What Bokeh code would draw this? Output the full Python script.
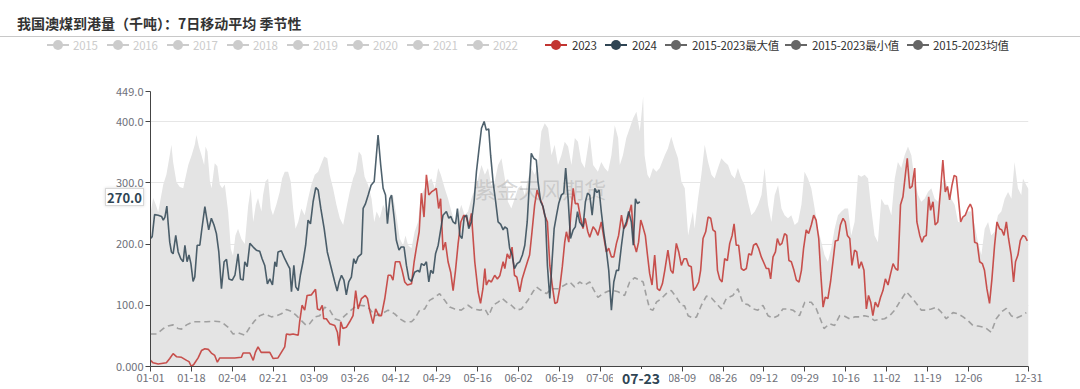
from bokeh.plotting import figure
from bokeh.layouts import column
from bokeh.models import Range1d, FixedTicker, Div
from bokeh.core.properties import value
from bokeh.embed import file_html
from bokeh.resources import INLINE

# ---------------- data ----------------
title_text = "我国澳煤到港量（千吨）：7日移动平均 季节性"
legend_names = ["2015", "2016", "2017", "2018", "2019", "2020", "2021", "2022",
                "2023", "2024", "2015-2023最大值", "2015-2023最小值", "2015-2023均值"]
legend_active = [False] * 8 + [True] * 5
legend_colors = ["#cccccc"] * 8 + ["#c23531", "#2f4554", "#666666", "#666666", "#666666"]

x_tick_days = [0, 17, 34, 51, 68, 85, 102, 119, 136, 153, 170, 187, 204, 221, 238, 255,
               272, 289, 306, 323, 340, 365]
x_tick_labels = ["01-01", "01-18", "02-04", "02-21", "03-09", "03-26", "04-12", "04-29",
                 "05-16", "06-02", "06-19", "07-06", "07-23", "08-09", "08-26", "09-12",
                 "09-29", "10-16", "11-02", "11-19", "12-06", "12-31"]
y_ticks = [0, 100, 200, 300, 400, 449]
y_tick_labels = ["0.000", "100.0", "200.0", "300.0", "400.0", "449.0"]

d2023 = [0, 1.1, 3.2, 6.6, 8, 9.4, 10.8, 12.9, 15, 16, 17, 18.1, 19.8, 21.2, 22.6, 24, 25.3, 26.7, 27.8, 28.8,
         30.9, 35, 37.8, 38.5, 40.6, 41.3, 42.7, 43.6, 44.7, 46, 49.6, 51, 53, 54.4, 55.8, 56.5, 57.9, 59.3, 61.4, 62,
         63, 64.1, 65.1, 66.9, 68.6, 69.4, 70.4, 71.4, 72, 73.1, 74.5, 76.6, 77.7, 78.4, 79.1, 80, 81.4, 82.8, 84.2, 85.3,
         86.3, 87.7, 89.3, 90.2, 91.1, 92.5, 93.6, 94.9, 96, 97.4, 98.8, 99.9, 100.8, 101.8, 103.6, 104.6, 105.7, 106.8, 108.5, 109.6,
         110.5, 111.7, 112.6, 113.7, 114.7, 115.7, 116.8, 117.9, 118.8, 119.8, 120.6, 121.6, 122.6, 123.7, 124.8, 125.8, 126.8, 127.9, 129, 130.2,
         131.3, 132.4, 133.4, 134.8, 136.2, 137.2, 138.2, 139, 139.6, 140.6, 141.7, 143.1, 144.2, 145.2, 146.6, 147.3, 148.3, 149.3, 150.3, 151.3,
         152.3, 153.5, 154.5, 155.6, 156.7, 157.6, 158.6, 159.7, 160.7, 161.8, 162.8, 163.9, 165, 166, 167, 168.1, 169.1, 170.1, 171.2, 172.2,
         172.9, 173.9, 174.7, 175.7, 176.6, 177.7, 178.8, 179.8, 180.7, 181.8, 182.6, 184, 185, 186, 187.4, 188.4, 189.5, 190.5, 191.6, 192.6,
         193.7, 194.6, 195.8, 196.7, 197.8, 198.8, 199.9, 201, 202, 202.9, 203.8, 204.7, 205.7, 206.6, 207.5, 208.5, 209.6, 210.7, 211.7, 212.8,
         213.8, 215.1, 216.3, 217.2, 218.6, 219.6, 220.7, 221.8, 222.8, 223.7, 224.8, 225.8, 226.9, 227.9, 228.7, 229.7, 230.8, 231.8, 232.9, 233.8,
         234.8, 235.7, 236.6, 237.6, 238.7, 239.8, 240.8, 241.8, 242.6, 243.5, 244.5, 245.6, 246.6, 247.7, 248.7, 249.8, 250.7, 251.8, 252.8, 253.9,
         254.8, 256, 257, 257.8, 258.8, 259.8, 260.6, 261.6, 262.5, 263.6, 264.5, 265.4, 266.4, 267.5, 268.5, 269.6, 270.6, 271.5, 272.6, 273.6,
         274.7, 275.7, 276.7, 277.8, 278.6, 279.6, 280.5, 281.6, 282.7, 283.7, 284.7, 285.8, 286.8, 287.9, 288.8, 289.7, 290.7, 291.6, 292.7, 293.6,
         294.5, 295.5, 296.6, 297.6, 298.5, 299.4, 300.3, 301.3, 302.4, 303.5, 304.5, 305.5, 306.6, 307.7, 308.7, 309.7, 310.7, 311.8, 312.8, 313.8,
         314.6, 315.6, 316.6, 317.7, 318.6, 319.8, 320.7, 321.6, 322.5, 323.5, 324.3, 325.3, 326.2, 327.3, 328.5, 329.4, 330.4, 331.3, 332.2, 333.2,
         334.1, 335, 336, 336.8, 337.7, 338.7, 339.8, 340.8, 341.6, 342.6, 343.7, 344.7, 345.8, 346.7, 347.7, 348.8, 349.8, 350.9, 351.9, 353,
         353.9, 354.8, 355.8, 356.7, 357.8, 358.8, 359.6, 360.6, 361.6, 362.7, 363.6, 364.5]
v2023 = [10, 6, 4, 6, 13, 21, 16, 15, 10, 8, 0, 4, 14, 26, 29, 28, 22, 18, 7, 14,
         14, 14, 15, 22, 22, 22, 10, 23, 32, 23, 23, 13, 14, 23, 32, 53, 52, 53, 51, 73,
         100, 92, 116, 117, 126, 94, 92, 100, 78, 78, 70, 67, 56, 34, 73, 62, 64, 73, 83, 124,
         94, 111, 116, 111, 92, 70, 94, 83, 83, 111, 149, 149, 141, 171, 171, 157, 138, 133, 135, 171,
         193, 220, 283, 244, 313, 280, 285, 288, 291, 258, 274, 190, 203, 171, 154, 124, 157, 201, 236, 247,
         244, 228, 250, 171, 122, 103, 127, 160, 133, 141, 138, 149, 143, 148, 171, 160, 184, 176, 195, 149,
         146, 122, 143, 157, 171, 182, 220, 264, 288, 274, 266, 247, 236, 165, 133, 103, 105, 127, 163, 203,
         220, 203, 247, 291, 266, 266, 242, 225, 242, 220, 211, 228, 223, 214, 236, 212, 187, 193, 179, 179,
         201, 214, 247, 225, 231, 247, 264, 201, 187, 203, 239, 228, 214, 182, 152, 133, 182, 127, 124, 135,
         157, 190, 157, 152, 201, 187, 165, 176, 176, 165, 163, 124, 130, 138, 157, 209, 220, 244, 242, 223,
         220, 157, 143, 138, 176, 173, 201, 214, 233, 198, 198, 160, 157, 160, 184, 182, 198, 201, 193, 179,
         171, 160, 160, 143, 179, 187, 209, 198, 201, 217, 214, 173, 171, 157, 141, 138, 157, 193, 223, 217,
         231, 247, 239, 209, 154, 97, 113, 111, 138, 171, 205, 206, 231, 242, 236, 214, 209, 165, 190, 187,
         160, 171, 157, 94, 116, 105, 83, 105, 97, 113, 124, 143, 133, 152, 168, 160, 157, 264, 277, 313,
         340, 291, 294, 324, 236, 214, 203, 212, 214, 277, 255, 269, 231, 236, 291, 337, 285, 294, 272, 296,
         312, 310, 269, 236, 244, 247, 258, 265, 258, 203, 201, 171, 168, 157, 127, 103, 143, 198, 236, 225,
         223, 214, 236, 209, 182, 138, 171, 182, 206, 214, 212, 205]

d2024 = [0, 0.7, 1.7, 3.2, 4.6, 5.3, 6, 6.8, 7.3, 8, 8.7, 9.4, 10.5, 11.5, 12.6, 13.6, 14.3, 15.2, 16, 16.8,
         17.7, 18.4, 19.4, 20.5, 21.2, 22.6, 23.3, 24.2, 25.3, 26.4, 27.4, 28.4, 29.5, 30.6, 31.6, 32.6, 34, 35.1, 36.4, 37.4,
         38.5, 39.2, 40.2, 41.3, 42.7, 44, 45.4, 46.4, 47.5, 48.6, 49.6, 50.7, 51.7, 52.4, 53, 54.4, 55.8, 57.2, 57.9, 58.6,
         59.6, 60.4, 61.4, 62.3, 63.4, 64.5, 65.5, 66.5, 67.6, 68.7, 69.7, 70.8, 72.2, 73.5, 75.2, 76.6, 77.6, 78.4, 79.4, 80.4,
         81.4, 82.4, 83.5, 84.5, 85.3, 86.3, 87.7, 88.4, 89.3, 90.5, 91.7, 93, 94.6, 95.7, 96.7, 97.7, 98.5, 99.5, 100.2, 101.3,
         102.2, 103.3, 104.2, 105.4, 106.4, 107.4, 108.5, 109.8, 111.2, 111.9, 112.6, 113.7, 114.7, 115.7, 116.5, 117.5, 118.5, 119.6, 120.7, 121.6,
         123, 124, 124.8, 125.8, 126.8, 127.6, 128.6, 129.5, 130.4, 131.4, 132.3, 133.4, 134.5, 135.5, 136.6, 137.6, 138.7, 139.6, 140.6, 141.4,
         142.4, 143.5, 144.5, 145.6, 146.6, 147.3, 148.3, 149.3, 150.3, 151.3, 152.4, 153.5, 154.6, 155.6, 156.6, 157.4, 158.3, 159.3, 160.4, 161.1,
         162.2, 163.2, 164.2, 165, 166, 167, 167.8, 168.8, 169.7, 170.8, 171.8, 172.6, 173.6, 174.6, 175.7, 176.6, 177.5, 178.4, 179.8, 180.8,
         181.7, 182.6, 183.6, 184.7, 185.6, 186.5, 187.4, 188.4, 189.5, 190.5, 191.6, 192.6, 193.7, 194.6, 195.8, 196.7, 197.8, 198.8, 199.9, 200.7,
         201.6, 202.4, 203.4]
v2024 = [209, 212, 248, 247, 245, 239, 244, 262, 236, 203, 187, 184, 214, 187, 176, 171, 198, 171, 182, 168,
         139, 146, 198, 198, 220, 261, 244, 223, 242, 231, 217, 187, 127, 171, 175, 143, 141, 149, 184, 143,
         141, 171, 163, 201, 195, 190, 188, 176, 165, 135, 143, 133, 171, 163, 187, 189, 176, 165, 160, 122,
         165, 130, 124, 149, 171, 198, 239, 233, 269, 292, 288, 258, 225, 187, 160, 138, 123, 138, 149, 141,
         117, 138, 146, 176, 168, 179, 184, 258, 265, 280, 296, 302, 378, 329, 291, 280, 233, 274, 280, 242,
         206, 190, 195, 195, 165, 143, 139, 154, 157, 154, 168, 165, 171, 138, 157, 152, 184, 198, 225, 247,
         253, 242, 245, 236, 233, 258, 214, 209, 244, 247, 225, 236, 269, 318, 356, 389, 400, 386, 388, 345,
         302, 269, 236, 232, 223, 228, 225, 193, 182, 160, 168, 171, 182, 198, 236, 291, 348, 340, 337, 302,
         269, 261, 242, 165, 111, 176, 225, 247, 266, 280, 283, 324, 274, 209, 223, 228, 253, 236, 228, 269,
         283, 280, 247, 291, 284, 288, 253, 220, 190, 157, 92, 138, 157, 157, 198, 225, 236, 253, 236, 198,
         274, 266, 269]

d_mean = [0, 2.5, 5.3, 7.3, 9.4, 11.5, 12.9, 15, 17.7, 20.5, 23.3, 26.7, 29.5, 32.3, 34.3, 36.4, 39.2, 41.3, 43.4, 45.4,
          47.5, 50.3, 52.4, 54.4, 56.5, 58.6, 60.7, 62.7, 64.8, 66.2, 68.3, 70.4, 72.4, 74.5, 76.6, 78.7, 80.8, 82.8, 84.9, 87,
          89, 91.1, 93.2, 96, 98.8, 101.5, 103.6, 105.7, 108.5, 109.8, 111.9, 114, 116, 118.2, 120.2, 122.3, 124.4, 126.5, 129.2, 132,
          134.1, 136.9, 139, 140.6, 142.4, 144.5, 146.2, 148, 150, 152.1, 154.2, 156.9, 159, 160.4, 162.5, 164.6, 166.7, 169.4, 172.2, 174.3,
          176.3, 178.4, 180.5, 182.6, 184, 186, 188.1, 190.2, 192.3, 194.4, 197.1, 199.2, 201.3, 203.4, 204.8, 206.1, 207.5, 208.9, 210.3, 212.4,
          214.4, 216.5, 218.6, 220.7, 222, 223.5, 225.5, 227, 229, 231.1, 233.2, 235.2, 237.3, 239.4, 242.1, 244.2, 246.3, 248.4, 250.5, 252.5,
          254.6, 256.7, 258.8, 260.9, 262.9, 265, 267.1, 269.8, 272, 274.7, 276.8, 278.9, 280, 282.3, 284.4, 286.5, 288.6, 290.6, 292.7, 294.8,
          296.9, 298.9, 301, 303.1, 305.2, 307.3, 309.4, 311.4, 314.2, 316.3, 318.4, 320.4, 322.5, 324.6, 326.7, 328.7, 330.8, 333.6, 335.7, 337.8,
          339.8, 341.9, 344, 346.8, 349.5, 351.6, 353.7, 355.8, 357.8, 360, 362.1, 364.1]
v_mean = [53, 53, 62, 66, 68, 62, 61, 68, 73, 73, 73, 74, 73, 64, 53, 55, 51, 64, 75, 83,
          86, 81, 83, 86, 93, 90, 83, 75, 67, 70, 81, 83, 97, 92, 78, 75, 83, 90, 97, 100,
          99, 94, 83, 86, 92, 86, 78, 73, 73, 78, 92, 94, 108, 113, 119, 108, 97, 94, 92, 100,
          94, 92, 94, 83, 100, 105, 111, 105, 100, 92, 94, 108, 122, 130, 124, 119, 127, 127, 133, 138,
          130, 138, 133, 138, 127, 113, 119, 123, 124, 122, 116, 138, 145, 141, 138, 116, 94, 92, 105, 111,
          119, 124, 113, 100, 99, 83, 79, 81, 100, 115, 112, 103, 94, 111, 116, 127, 103, 101, 94, 92,
          100, 83, 79, 83, 94, 94, 92, 83, 105, 105, 94, 73, 62, 70, 67, 83, 82, 78, 81, 81,
          83, 81, 75, 77, 78, 83, 92, 105, 122, 113, 103, 92, 92, 94, 97, 89, 78, 88, 86, 81,
          75, 67, 66, 64, 56, 78, 89, 95, 83, 79, 83, 88]

d_max = [0, 1.1, 2.4, 3.2, 5.3, 6.6, 8, 8.7, 9.4, 10.8, 12.2, 13.6, 14.3, 15.7, 17.1, 18.4, 19.1, 20.1, 21.2, 22.3,
         22.9, 23.7, 24.7, 25.4, 26.7, 27.8, 28.8, 29.8, 30.9, 32.3, 33.4, 34.3, 35.3, 36.4, 37.8, 39.2, 40.6, 41.7, 42.7, 43.8,
         44.7, 46.1, 46.8, 47.8, 48.9, 50, 50.9, 52.3, 53.7, 54.7, 55.8, 57.2, 58.3, 59.3, 60.3, 61.4, 62.7, 64.1, 65.5, 66.9,
         68.3, 69.7, 70.8, 72.2, 73.5, 74.5, 75.9, 77.3, 78.7, 80.1, 81.4, 82.8, 84.2, 85.3, 86.6, 87.7,
         89, 90.5, 91.9, 93, 94, 95.3, 96.7, 98.1, 99.5, 100.8, 102.2, 103.6, 105, 106, 107.1, 108.5, 109.8, 111.2, 112.6, 114,
         115.4, 116.8, 118.2, 119.6, 120.7, 122.3, 123.7, 125.1, 126.5, 127.9, 129.2, 130.6, 132, 133.4, 134.8, 136.2, 137.6, 139, 140.3, 141.7,
         143.1, 144.5, 145.9, 147.3, 148.6, 150, 151.4, 152.8, 154.2, 155.6, 156.9, 158.3, 159.7, 161.1, 162.5, 163.9, 165.3, 166.7, 168, 169.4,
         170.8, 172.2, 173.6, 175, 176.4, 177.7, 179.1,
         180.5, 182.6, 184, 186, 187.4, 188.8, 190.2, 191.6, 193, 194.4, 195.1, 196.4, 197.8, 199.2, 200.6, 202, 203.4, 204.1, 204.8, 205.4,
         206.6, 207.5, 208.9, 210.3, 211.7, 213.8, 215.1, 216.5, 217.9, 219.3, 220.7, 222.1, 223.5, 224.6, 225.5, 226.2, 227.6, 229, 230.4, 231.8,
         233.2, 234.5, 235.9, 237.3, 238.7, 240.1, 241.5, 242.9, 244.2, 245.6, 247, 248.4, 249.8, 251.2, 252.6, 254, 255.3, 256.7, 258.1, 259.5,
         260.9, 262.3, 263.6, 265, 266.4, 267.8, 269.2, 270.6, 271.9,
         273.3, 274.7, 276.1, 277.5, 278.9, 280.2, 281.6, 283, 284.4, 285.8, 287.2, 288.6, 290, 291.3, 292.7, 294.1, 295.5, 296.9, 298.3, 299.6,
         301, 302.4, 303.8, 305.2, 306.6, 308, 309.4, 310.7, 312.1, 313.5, 314.9, 316.3, 317.7, 319.1, 320.4, 321.8, 323.2, 324.6, 326, 327.4,
         328.7, 330.1, 331.5, 332.9, 334.3, 335.7, 337.1, 338.5, 339.8, 341.2, 342.6, 344, 345.4, 346.8, 348.2, 349.5, 350.9, 352.3, 353.7, 355.1,
         356.5, 357.9, 359.2, 360.6, 362, 362.7, 364.1, 365]
v_max = [250, 275, 262, 252, 297, 313, 345, 362, 334, 301, 293, 291, 304, 329, 345, 362, 378, 359, 345, 329,
         359, 351, 302, 291, 332, 327, 297, 291, 297, 252, 192, 181, 214, 225, 208, 200, 262, 291, 236, 264,
         275, 253, 280, 302, 307, 258, 247, 264, 285, 307, 318, 318, 302, 258, 225, 236, 258, 247, 274, 297,
         313, 318, 329, 343, 340, 313, 291, 264, 242, 231, 258, 285, 307, 318, 351, 345,
         310, 296, 274, 236, 253, 242, 264, 253, 274, 280, 247, 209, 198, 214, 198, 193, 220, 236, 280, 291,
         302, 307, 291, 324, 313, 291, 274, 253, 236, 247, 264, 247, 253, 274, 291, 307, 329, 313, 324, 296,
         302, 329, 340, 307, 269, 258, 274, 291, 296, 280, 307, 324, 313, 329, 384, 397, 389, 345, 362, 329,
         345, 367, 359, 329, 373, 367, 334,
         324, 378, 329, 318, 334, 324, 318, 345, 394, 373, 329, 345, 373, 389, 405, 416, 384, 411, 441, 345,
         313, 307, 324, 318, 324, 345, 356, 375, 356, 340, 302, 291, 214, 236, 253, 225, 274, 313, 362, 334,
         313, 307, 324, 340, 334, 329, 313, 307, 324, 307, 296, 269, 247, 253, 264, 280, 324, 264, 236, 280,
         296, 258, 247, 242, 247, 231, 236, 264, 318,
         307, 291, 258, 225, 203, 182, 171, 193, 225, 247, 253, 258, 258, 214, 236, 313, 310, 313, 307, 258,
         214, 203, 274, 264, 264, 247, 307, 334, 324, 345, 359, 345, 302, 280, 269, 274, 285, 291, 274, 269,
         296, 307, 291, 274, 264, 236, 236, 247, 253, 253, 231, 203, 182, 225, 236, 214, 220, 247, 253, 274,
         285, 274, 334, 291, 280, 307, 296, 290]

watermark = "紫金天风期货"
pointer_y_text = "270.0"
pointer_x_text = "07-23"

FONT = "Noto Sans CJK SC"
HDR_H = 45

# ---------------- header (title, rule, legend, pointer labels) as HTML ----------------
icon_cx = [57.5 + 60 * i for i in range(8)] + [556, 616, 676, 796, 917.5]
text_x = [73 + 60 * i for i in range(8)] + [572, 632, 692, 812, 933]
parts = ['<div style="position:relative;z-index:20;width:1080px;height:%dpx;font-family:\'%s\';">' % (HDR_H, FONT)]
parts.append('<span style="position:absolute;left:17px;top:14px;line-height:18px;font-size:14px;'
             'font-weight:bold;color:#333;white-space:nowrap;">%s</span>' % title_text)
parts.append('<div style="position:absolute;left:0px;top:36px;width:1080px;height:1px;background:#c8c8c8;"></div>')
for cx, tx, name, col, act in zip(icon_cx, text_x, legend_names, legend_colors, legend_active):
    parts.append('<div style="position:absolute;left:%.1fpx;top:44px;width:22px;height:2px;background:%s;"></div>'
                 % (cx - 11, col))
    parts.append('<div style="position:absolute;left:%.1fpx;top:40px;width:10px;height:10px;border-radius:5px;'
                 'background:%s;"></div>' % (cx - 5, col))
    parts.append('<span style="position:absolute;left:%.1fpx;top:38px;line-height:14px;font-size:11.5px;'
                 'letter-spacing:-0.2px;color:%s;white-space:nowrap;">%s</span>'
                 % (tx, "#333" if act else "#ccc", name))
# axis-pointer labels (drawn over the chart)
parts.append('<div style="position:absolute;left:105px;top:188px;width:39px;height:18px;background:#fff;'
             'border:1px solid #d8d8d8;box-shadow:0 0 3px rgba(0,0,0,0.15);text-align:center;line-height:18px;'
             'font-size:13px;font-weight:bold;color:#2f4554;">%s</div>' % pointer_y_text)
parts.append('<div style="position:absolute;left:613px;top:369px;width:56px;height:19px;background:#fff;'
             'text-align:center;line-height:19px;font-size:14px;font-weight:bold;color:#2f4554;">%s</div>'
             % pointer_x_text)
parts.append('</div>')
header = Div(text="".join(parts), width=1080, height=HDR_H, margin=(0, 0, 0, 0),
             styles={"overflow": "visible", "z-index": "20", "position": "relative"})

# ---------------- main chart ----------------
p = figure(width=1080, height=389 - HDR_H, x_range=Range1d(0, 365), y_range=Range1d(0, 449),
           output_backend="svg", toolbar_location=None,
           min_border_left=150, min_border_right=52, min_border_top=91 - HDR_H, min_border_bottom=23,
           outline_line_color=None, margin=(0, 0, 0, 0))
p.xgrid.grid_line_color = None
p.ygrid.ticker = FixedTicker(ticks=y_ticks)
p.ygrid.grid_line_color = "#e6e6e6"

p.yaxis.ticker = FixedTicker(ticks=y_ticks)
p.yaxis.major_label_overrides = {t: l for t, l in zip(y_ticks, y_tick_labels)}
p.xaxis.ticker = FixedTicker(ticks=x_tick_days)
p.xaxis.major_label_overrides = {t: l for t, l in zip(x_tick_days, x_tick_labels)}
for ax in (p.xaxis[0], p.yaxis[0]):
    ax.axis_line_color = "#444444"
    ax.major_tick_line_color = "#444444"
    ax.major_tick_in = 0
    ax.major_tick_out = 5
    ax.minor_tick_line_color = None
    ax.major_label_text_color = "#6E7079"
    ax.major_label_text_font = FONT
    ax.major_label_text_font_size = "11px"
    ax.major_label_standoff = 2

p.varea(x=d_max, y1=[0] * len(d_max), y2=v_max, fill_color="#e4e4e4")
p.text(x=[162], y=[291], text=[watermark], text_font=value(FONT), text_font_size="22px",
       text_color="#aaaaaa", text_alpha=0.45, text_align="center", text_baseline="middle")
p.line(d_mean, v_mean, line_color="#a0a0a0", line_width=1.6, line_dash="6 4")
p.line(d2023, v2023, line_color="#c23531", line_width=1.6, line_alpha=0.85)
p.line(d2024, v2024, line_color="#2f4554", line_width=1.6, line_alpha=0.85)

open("out.html", "w").write(file_html(column(header, p, spacing=0), INLINE))
